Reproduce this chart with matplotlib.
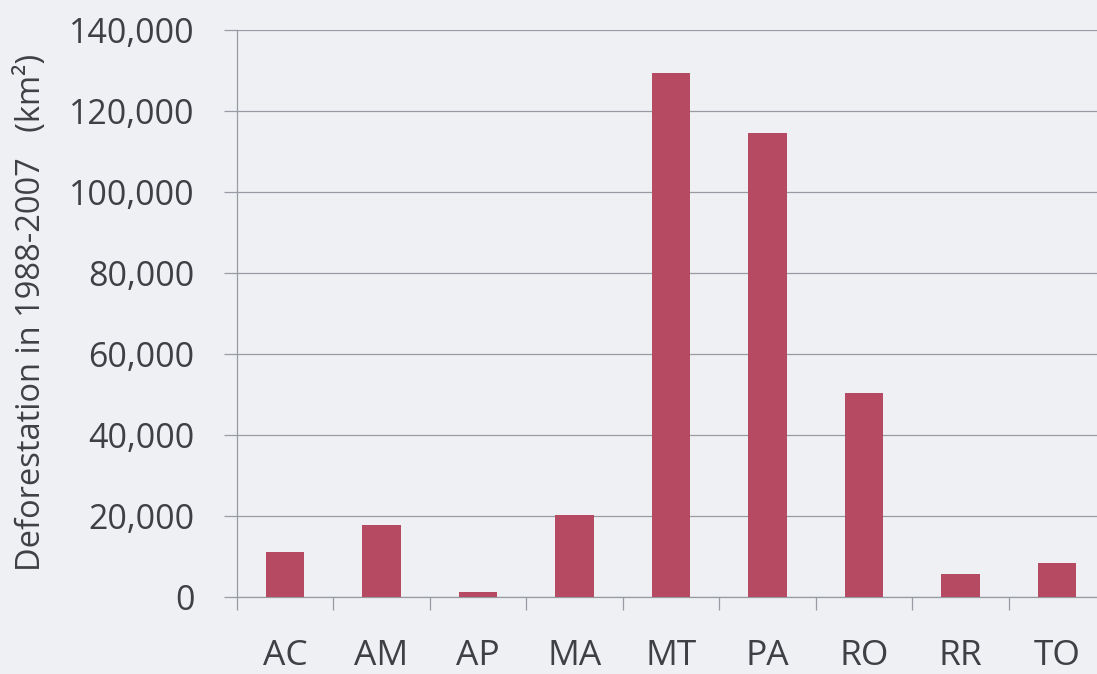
import matplotlib.pyplot as plt
import numpy as np
from matplotlib.ticker import FuncFormatter

# Deforestation by state, 1988-2007 (km²)
states = ["AC", "AM", "AP", "MA", "MT", "PA", "RO", "RR", "TO"]
deforestation = [11100, 17800, 1200, 20200, 129400, 114600, 50400, 5700, 8400]
y_ticks = list(range(0, 140001, 20000))

bar_colour = "#b64a62"
text_colour = "#3f4045"
line_colour = "#979ba3"
paper = "#eef0f3"

plt.rcParams["font.family"] = ["Open Sans", "DejaVu Sans"]

fig = plt.figure(figsize=(10.97, 6.74), dpi=100, facecolor=paper)
ax = fig.add_axes([0.2158, 0.1142, 0.7917, 0.8412])
ax.set_facecolor(paper)

x = np.arange(len(states))
ax.bar(x, deforestation, width=0.4, color=bar_colour, zorder=3)

ax.set_xlim(-0.5, len(states) - 0.5)
ax.set_ylim(0, 140000)
ax.set_yticks(y_ticks)
ax.yaxis.set_major_formatter(FuncFormatter(lambda v, p: f"{int(v):,}"))
ax.grid(axis="y", color=line_colour, linewidth=0.9, zorder=0)

# category separators below the axis, labels centred on the bars
ax.set_xticks(np.arange(len(states) + 1) - 0.5)
ax.set_xticklabels([])
ax.set_xticks(x, minor=True)
ax.set_xticklabels(states, minor=True)
ax.tick_params(axis="x", which="major", direction="out", length=9.4,
               width=0.9, color=line_colour)
ax.tick_params(axis="x", which="minor", length=0, pad=30,
               labelsize=25.5, labelcolor=text_colour)
ax.tick_params(axis="y", direction="out", length=9.4, width=0.9,
               color=line_colour, pad=21, labelsize=24.5,
               labelcolor=text_colour)

for side in ("top", "right"):
    ax.spines[side].set_visible(False)
for side in ("left", "bottom"):
    ax.spines[side].set_color(line_colour)
    ax.spines[side].set_linewidth(0.9)

fig.text(0.029, 0.537, "Deforestation in 1988-2007   (km²)", rotation=90,
         ha="center", va="center", fontsize=23.5, color=text_colour)

fig.savefig("out.png", dpi=100, facecolor=paper)
